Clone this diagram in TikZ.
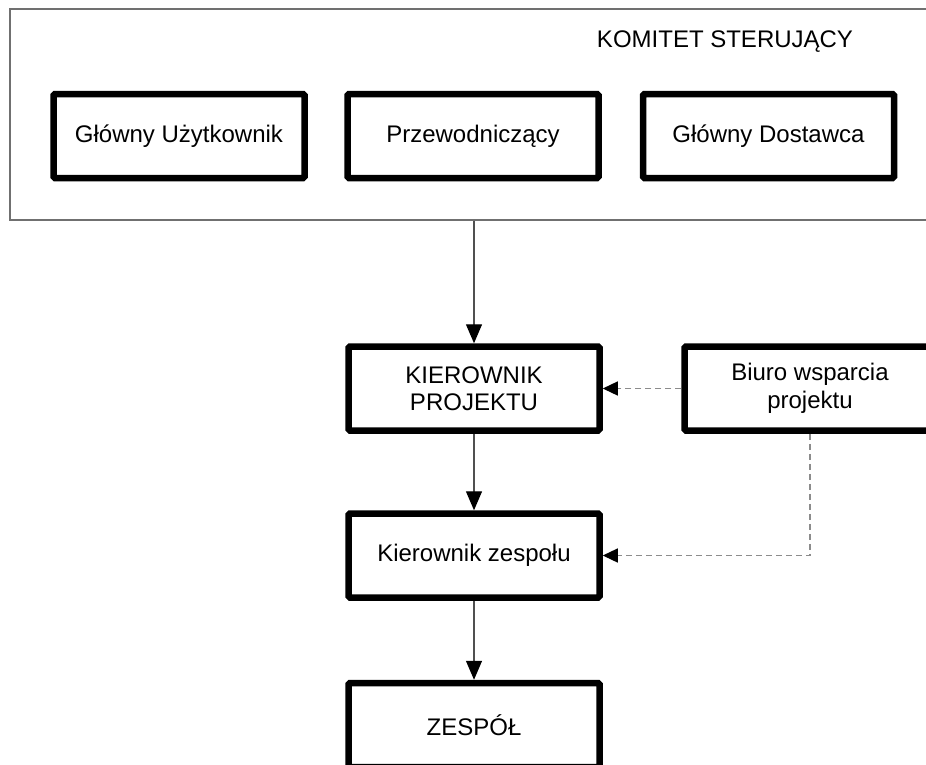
\documentclass[tikz,border=0pt]{standalone}
\usepackage{fontspec}
\setmainfont{Liberation Sans}
\usetikzlibrary{arrows.meta}
\definecolor{framegray}{HTML}{707070}
\definecolor{linegray}{HTML}{505050}
\definecolor{dashgray}{HTML}{8C8C8C}
\begin{document}
\begin{tikzpicture}[x=1pt,y=-1pt,
  rolebox/.style={draw=black, line width=6.5pt, rounded corners=1.5pt, fill=white,
    minimum width=251pt, minimum height=84pt, inner sep=0pt, align=center,
    font=\fontsize{24}{27.5}\selectfont},
  groupframe/.style={draw=framegray, line width=1.3pt, minimum width=928pt,
    minimum height=211pt, inner sep=0pt},
  flow/.style={draw=linegray, line width=1.3pt,
    -{Triangle[length=19pt,width=16pt,fill=black,color=black]}},
  support/.style={draw=dashgray, line width=1.3pt, dash pattern=on 6pt off 4pt,
    -{Triangle[length=15pt,width=14pt,fill=black,color=black]}}
]
\useasboundingbox (0,0) rectangle (926,764);
\clip (0,0) rectangle (926,764);

% steering committee frame
\node[groupframe] (komitet) at (474,114.5) {};
\node[font=\fontsize{24}{27.5}\selectfont] (komitetlbl) at (725,42) {KOMITET STERUJĄCY};

\node[rolebox] (uzytk) at (179,136) {Główny Użytkownik};
\node[rolebox] (przew) at (473,136) {Przewodniczący};
\node[rolebox] (dostaw) at (768.5,136) {Główny Dostawca};

% project management chain
\node[rolebox] (kp) at (474,388.5) {KIEROWNIK\\PROJEKTU};
\node[rolebox] (biuro) at (810,388.5) {Biuro wsparcia\\projektu};
\node[rolebox] (kz) at (474,555.5) {Kierownik zespołu};
\node[rolebox] (zespol) at (474,725) {ZESPÓŁ};

\draw[flow] (komitet.south) -- (kp.north);
\draw[flow] (kp.south) -- (kz.north);
\draw[flow] (kz.south) -- (zespol.north);

\draw[support] (biuro.west) -- (kp.east);
\draw[support] (biuro.south) |- (kz.east);
\end{tikzpicture}
\end{document}
